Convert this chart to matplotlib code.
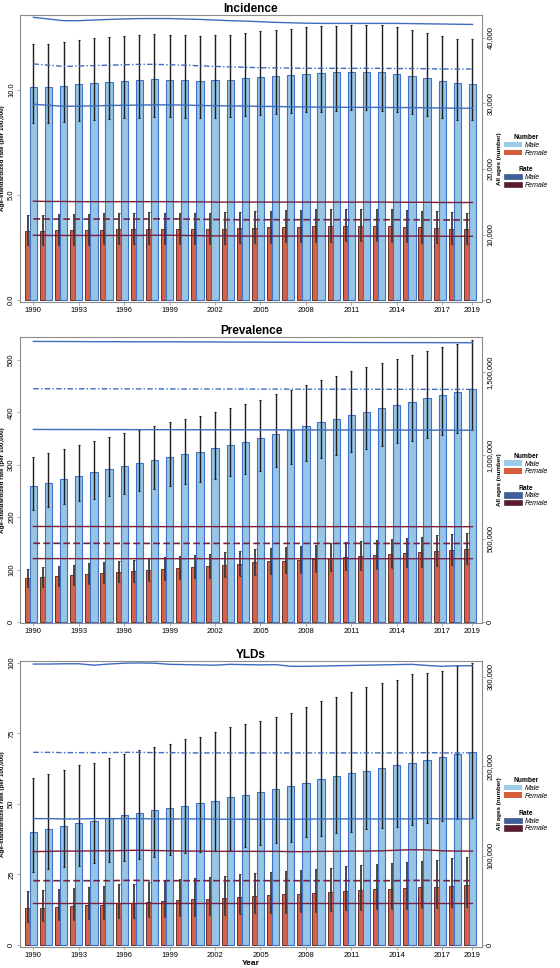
import matplotlib.pyplot as plt
from matplotlib.patches import Patch
from matplotlib.ticker import FuncFormatter

plt.rcParams['font.family'] = ['Liberation Sans', 'DejaVu Sans']

years = list(range(1990, 2020))
year_ticks = [1990, 1993, 1996, 1999, 2002, 2005, 2008, 2011, 2014, 2017, 2019]

# ---------------- Incidence ----------------
inc_m = [32470, 32470, 32720, 32980, 33130, 33280, 33440, 33540, 33690, 33590,
         33540, 33440, 33540, 33630, 33850, 34050, 34200, 34350, 34550, 34660,
         34760, 34850, 34850, 34810, 34550, 34200, 33850, 33440, 33080, 33020]
inc_m_hi = [39130, 39130, 39430, 39740, 39920, 40100, 40300, 40420, 40600, 40480,
            40420, 40300, 40420, 40520, 40790, 41030, 41210, 41390, 41630, 41770,
            41890, 41990, 41990, 41950, 41630, 41210, 40790, 40300, 39860, 39790]
inc_m_lo = [26950, 26950, 27160, 27370, 27500, 27620, 27760, 27840, 27960, 27880,
            27840, 27760, 27840, 27910, 28100, 28260, 28390, 28510, 28680, 28770,
            28850, 28930, 28930, 28890, 28680, 28390, 28100, 27760, 27460, 27410]
inc_f = [10600, 10600, 10650, 10700, 10700, 10750, 10800, 10850, 10900, 10850,
         10850, 10800, 10850, 10900, 10950, 11000, 11100, 11150, 11200, 11250,
         11300, 11350, 11350, 11350, 11300, 11200, 11100, 11000, 10900, 10850]
inc_f_hi = [13040, 13040, 13100, 13160, 13160, 13220, 13280, 13350, 13410, 13350,
            13350, 13280, 13350, 13410, 13470, 13530, 13650, 13710, 13780, 13840,
            13900, 13960, 13960, 13960, 13900, 13780, 13650, 13530, 13410, 13350]
inc_f_lo = [8370, 8370, 8410, 8450, 8450, 8490, 8530, 8570, 8610, 8570,
            8570, 8530, 8570, 8610, 8650, 8690, 8770, 8810, 8850, 8890,
            8930, 8970, 8970, 8970, 8930, 8850, 8770, 8690, 8610, 8570]
inc_mr = [11.24, 11.18, 11.12, 11.14, 11.16, 11.18, 11.20, 11.22, 11.22, 11.20,
          11.18, 11.15, 11.12, 11.10, 11.08, 11.06, 11.05, 11.04, 11.03, 11.03,
          11.03, 11.03, 11.03, 11.03, 11.02, 11.02, 11.01, 11.00, 11.00, 11.00]
inc_mr_hi = [13.46, 13.38, 13.30, 13.30, 13.33, 13.36, 13.38, 13.40, 13.40, 13.40,
             13.38, 13.36, 13.33, 13.30, 13.28, 13.25, 13.22, 13.20, 13.18, 13.17,
             13.17, 13.17, 13.17, 13.17, 13.17, 13.16, 13.15, 13.14, 13.13, 13.12]
inc_mr_lo = [9.32, 9.27, 9.22, 9.23, 9.24, 9.26, 9.27, 9.28, 9.29, 9.29,
             9.28, 9.26, 9.25, 9.24, 9.23, 9.22, 9.21, 9.20, 9.19, 9.18,
             9.18, 9.17, 9.17, 9.17, 9.16, 9.16, 9.15, 9.14, 9.13, 9.13]
inc_fr = [3.86, 3.85, 3.85, 3.85, 3.85, 3.85, 3.85, 3.85, 3.86, 3.86,
          3.85, 3.84, 3.83, 3.82, 3.82, 3.82, 3.82, 3.82, 3.82, 3.82,
          3.82, 3.82, 3.82, 3.82, 3.82, 3.82, 3.81, 3.81, 3.81, 3.81]
inc_fr_hi = [4.70, 4.69, 4.69, 4.68, 4.68, 4.68, 4.68, 4.68, 4.68, 4.68,
             4.67, 4.67, 4.66, 4.66, 4.66, 4.66, 4.66, 4.66, 4.66, 4.66,
             4.66, 4.66, 4.66, 4.66, 4.65, 4.65, 4.65, 4.64, 4.64, 4.64]
inc_fr_lo = [3.08, 3.07, 3.07, 3.07, 3.07, 3.07, 3.07, 3.07, 3.08, 3.08,
             3.07, 3.06, 3.05, 3.05, 3.04, 3.04, 3.04, 3.04, 3.04, 3.04,
             3.04, 3.04, 3.04, 3.04, 3.04, 3.04, 3.04, 3.03, 3.03, 3.03]

# ---------------- Prevalence ----------------
prev_m = [816000, 836000, 858000, 878000, 898000, 916000, 936000, 954000, 972000, 990000,
          1006000, 1022000, 1042000, 1062000, 1082000, 1102000, 1130000, 1152000, 1176000, 1198000,
          1220000, 1242000, 1262000, 1282000, 1302000, 1322000, 1342000, 1362000, 1380000, 1398000]
prev_m_hi = [987000, 1012000, 1038000, 1062000, 1087000, 1108000, 1133000, 1154000, 1176000, 1198000,
             1217000, 1237000, 1261000, 1285000, 1309000, 1333000, 1367000, 1394000, 1423000, 1450000,
             1476000, 1503000, 1527000, 1551000, 1575000, 1600000, 1624000, 1648000, 1670000, 1692000]
prev_m_lo = [672000, 688000, 706000, 723000, 739000, 754000, 770000, 785000, 800000, 815000,
             828000, 841000, 858000, 874000, 890000, 907000, 930000, 948000, 968000, 986000,
             1004000, 1022000, 1039000, 1055000, 1072000, 1088000, 1104000, 1121000, 1136000, 1151000]
prev_f = [262000, 268000, 274000, 282000, 288000, 294000, 300000, 306000, 312000, 318000,
          324000, 330000, 336000, 342000, 348000, 358000, 364000, 368000, 372000, 378000,
          386000, 392000, 396000, 402000, 408000, 414000, 420000, 426000, 432000, 438000]
prev_f_hi = [320000, 327000, 334000, 344000, 351000, 359000, 366000, 373000, 381000, 388000,
             395000, 403000, 410000, 417000, 425000, 437000, 444000, 449000, 454000, 461000,
             471000, 478000, 483000, 490000, 498000, 505000, 512000, 520000, 527000, 534000]
prev_f_lo = [207000, 212000, 216000, 223000, 228000, 232000, 237000, 242000, 246000, 251000,
             256000, 261000, 265000, 270000, 275000, 283000, 288000, 291000, 294000, 299000,
             305000, 310000, 313000, 318000, 322000, 327000, 332000, 337000, 341000, 346000]
prev_mr = [445.2, 445.1, 445.1, 445.0, 445.0, 445.0, 444.9, 444.9, 444.9, 444.8,
           444.8, 444.7, 444.7, 444.6, 444.6, 444.5, 444.5, 444.4, 444.4, 444.3,
           444.3, 444.2, 444.2, 444.2, 444.1, 444.1, 444.0, 444.0, 444.0, 444.0]
prev_mr_hi = [535.5, 535.4, 535.3, 535.2, 535.0, 535.0, 534.9, 534.8, 534.8, 534.7,
              534.6, 534.5, 534.4, 534.3, 534.2, 534.1, 534.0, 533.9, 533.8, 533.7,
              533.6, 533.5, 533.4, 533.3, 533.3, 533.2, 533.2, 533.1, 533.1, 533.0]
prev_mr_lo = [367.5, 367.4, 367.4, 367.3, 367.3, 367.2, 367.2, 367.1, 367.1, 367.0,
              367.0, 366.9, 366.9, 366.8, 366.8, 366.7, 366.7, 366.6, 366.6, 366.5,
              366.5, 366.4, 366.4, 366.3, 366.3, 366.2, 366.2, 366.1, 366.1, 366.0]
prev_fr = [150.2, 150.2, 150.1, 150.1, 150.1, 150.0, 150.0, 150.0, 150.0, 150.0,
           150.0, 150.0, 150.0, 150.0, 150.0, 150.0, 150.0, 150.0, 150.0, 150.0,
           150.0, 150.0, 150.0, 149.9, 149.9, 149.9, 149.9, 149.9, 149.9, 149.9]
prev_fr_hi = [182.3, 182.3, 182.2, 182.2, 182.2, 182.1, 182.1, 182.1, 182.0, 182.0,
              182.0, 182.0, 182.0, 182.0, 182.0, 182.0, 182.0, 182.0, 182.0, 182.0,
              182.0, 182.0, 181.9, 181.9, 181.9, 181.9, 181.9, 181.9, 181.9, 181.9]
prev_fr_lo = [121.0, 121.0, 121.0, 120.9, 120.9, 120.9, 120.9, 120.9, 120.9, 120.9,
              120.8, 120.8, 120.8, 120.8, 120.8, 120.8, 120.8, 120.8, 120.8, 120.8,
              120.8, 120.8, 120.8, 120.8, 120.8, 120.8, 120.8, 120.8, 120.8, 120.8]

# ---------------- YLDs ----------------
yld_m = [126700, 129400, 133100, 136100, 138700, 142100, 145100, 148000, 150700, 153200,
         155800, 158500, 161600, 165200, 167800, 170800, 174200, 177900, 181500, 185300,
         188700, 192100, 195000, 198300, 201000, 203900, 206900, 210300, 213300, 215500]
yld_m_hi = [187200, 191300, 195700, 201300, 203200, 208800, 213600, 218100, 221800, 224500,
            230400, 233000, 237900, 243500, 247200, 250900, 255400, 259800, 265900, 272900,
            277100, 283300, 288300, 292700, 296400, 302800, 304600, 306500, 312100, 315800]
yld_m_lo = [82000, 84700, 86900, 88700, 91400, 92500, 94000, 95900, 98100, 100700,
            102600, 103700, 105100, 106300, 109300, 111900, 113800, 115600, 121100, 122300,
            125600, 126700, 129400, 130500, 132300, 134200, 136100, 138700, 140600, 141700]
yld_f = [41000, 41800, 42900, 43600, 44700, 45100, 46600, 47000, 48100, 49200,
         50300, 51100, 51800, 52900, 54100, 55200, 55900, 56700, 57400, 58500,
         59300, 60400, 61200, 62300, 63000, 63800, 64500, 65200, 66400, 67100]
yld_f_hi = [59900, 61000, 62600, 63700, 65300, 65800, 68000, 68600, 70200, 71800,
            73400, 74600, 75600, 77200, 79000, 80600, 81600, 82800, 83800, 85400,
            86600, 88200, 89400, 91000, 92000, 93100, 94200, 95200, 96900, 98000]
yld_f_lo = [26200, 26800, 27500, 27900, 28600, 28900, 29800, 30100, 30800, 31500,
            32200, 32700, 33200, 33900, 34600, 35300, 35800, 36300, 36700, 37400,
            38000, 38700, 39200, 39900, 40300, 40800, 41300, 41700, 42500, 42900]
yld_mr = [68.3, 68.3, 68.2, 68.2, 68.2, 68.2, 68.3, 68.3, 68.2, 68.2,
          68.1, 68.1, 68.1, 68.1, 68.1, 68.1, 68.1, 68.1, 68.1, 68.1,
          68.1, 68.1, 68.1, 68.1, 68.1, 68.1, 68.2, 68.1, 68.1, 68.1]
yld_mr_hi = [99.6, 99.6, 99.7, 99.7, 99.2, 99.6, 99.9, 100.0, 99.9, 99.5,
             99.4, 99.3, 99.2, 99.5, 99.4, 99.3, 99.4, 98.8, 98.8, 98.9,
             99.0, 99.1, 99.2, 99.3, 99.4, 99.5, 99.1, 98.8, 99.0, 99.0]
yld_mr_lo = [44.8, 44.8, 44.7, 44.7, 44.8, 44.8, 44.8, 44.8, 44.7, 44.7,
             44.7, 44.7, 44.6, 44.6, 44.6, 44.6, 44.6, 44.6, 44.6, 44.7,
             44.7, 44.7, 44.7, 44.7, 44.7, 44.7, 44.8, 44.7, 44.7, 44.7]
yld_fr = [22.8, 22.8, 22.8, 22.8, 22.8, 22.8, 22.9, 22.9, 22.8, 22.8,
          22.8, 22.8, 22.8, 22.8, 22.8, 22.8, 22.8, 22.8, 22.8, 22.8,
          22.8, 22.8, 22.8, 22.8, 22.8, 22.9, 22.9, 22.8, 22.8, 22.8]
yld_fr_hi = [33.1, 33.2, 33.3, 33.3, 33.4, 33.4, 33.5, 33.6, 33.5, 33.4,
             33.3, 33.3, 33.2, 33.2, 33.2, 33.2, 33.2, 33.1, 33.1, 33.2,
             33.2, 33.3, 33.3, 33.4, 33.6, 33.8, 33.7, 33.4, 33.3, 33.3]
yld_fr_lo = [15.0, 15.0, 15.0, 15.0, 15.0, 15.0, 15.0, 15.0, 15.0, 15.0,
             15.0, 15.0, 15.0, 15.0, 15.0, 15.0, 15.0, 15.0, 15.0, 15.0,
             15.0, 15.0, 15.0, 15.0, 15.0, 15.0, 15.0, 15.0, 15.0, 15.0]

# colours
male_fill, male_edge = '#96C5E5', '#3F72C6'
fem_fill, fem_edge = '#D6624A', '#4E1C1A'
male_line, fem_line = '#3D6CC0', '#7A1E3E'
frame_col = '#8C8C8C'

fig = plt.figure(figsize=(5.6, 9.68), dpi=100)


def draw_panel(rect, title, num, rate, rate_lim, rate_ticks, rate_fmt,
               num_lim, num_ticks, leg_y, small_year=None, xlabel=False):
    m, m_lo, m_hi, f, f_lo, f_hi = num
    mr, mr_lo, mr_hi, fr, fr_lo, fr_hi = rate

    ax = fig.add_axes(rect)
    ax2 = ax.twinx()
    # numbers on the right axis, rates on the left one
    ax.yaxis.tick_right()
    ax.yaxis.set_label_position('right')
    ax2.yaxis.tick_left()
    ax2.yaxis.set_label_position('left')

    xf = [y - 0.33 for y in years]
    ax.bar(xf, f, width=0.48, color=fem_fill, edgecolor=fem_edge,
           linewidth=0.6, zorder=1)
    ax.errorbar(xf, f, yerr=[[a - b for a, b in zip(f, f_lo)],
                             [b - a for a, b in zip(f, f_hi)]],
                fmt='none', ecolor='#3A3A3A', elinewidth=1.3, capsize=0.8,
                capthick=0.8, zorder=2)
    ax.bar(years, m, width=0.48, color=male_fill, edgecolor=male_edge,
           linewidth=0.8, zorder=3)
    ax.errorbar(years, m, yerr=[[a - b for a, b in zip(m, m_lo)],
                                [b - a for a, b in zip(m, m_hi)]],
                fmt='none', ecolor='#1E1E1E', elinewidth=1.0, capsize=0.8,
                capthick=0.8, zorder=4)
    ax.set_ylim(*num_lim)
    ax.set_xlim(1989.12, 2019.63)
    ax.set_yticks(num_ticks)
    ax.yaxis.set_major_formatter(FuncFormatter(lambda v, p: f'{int(v):,}'))
    ax.set_ylabel('All ages (number)', fontsize=4.5, fontweight='bold',
                  labelpad=2)
    ax.set_xticks(year_ticks)
    ax.set_xticklabels([str(y) for y in year_ticks])
    if small_year is not None:
        for lab in ax.get_xticklabels():
            if lab.get_text() == str(small_year):
                lab.set_fontsize(3.6)
    ax.tick_params(axis='x', labelsize=5.5, length=2, width=0.5,
                   color=frame_col, pad=1.5)
    ax.tick_params(axis='y', labelsize=5.5, length=2, width=0.5,
                   color=frame_col, pad=1.5, labelrotation=90)
    for lab in ax.get_yticklabels():
        lab.set_va('center')
    for s in ax.spines.values():
        s.set_color(frame_col)
        s.set_linewidth(0.8)

    ax2.plot(years, mr_hi, color=male_line, lw=1.0)
    ax2.plot(years, mr, color=male_line, lw=1.0, dashes=(4, 1.6, 1, 1.6))
    ax2.plot(years, mr_lo, color=male_line, lw=1.0)
    ax2.plot(years, fr_hi, color=fem_line, lw=1.0)
    ax2.plot(years, fr, color=fem_line, lw=1.2, dashes=(4, 2))
    ax2.plot(years, fr_lo, color=fem_line, lw=1.0)
    ax2.set_ylim(*rate_lim)
    ax2.set_yticks(rate_ticks)
    ax2.yaxis.set_major_formatter(FuncFormatter(lambda v, p: rate_fmt % v))
    ax2.tick_params(axis='y', labelsize=5.5, length=2, width=0.5,
                    color=frame_col, pad=1.5, labelrotation=90)
    for lab in ax2.get_yticklabels():
        lab.set_va('center')
    ax2.set_ylabel('Age-standardized rate (per 100,000)', fontsize=4.5,
                   fontweight='bold', labelpad=2)
    for s in ax2.spines.values():
        s.set_visible(False)

    ax.set_title(title, fontsize=8.5, fontweight='bold', pad=2)
    if xlabel:
        ax.set_xlabel('Year', fontsize=6, fontweight='bold', labelpad=1)

    h_num = [Patch(facecolor='#9CCBE8', edgecolor='none', label='Male'),
             Patch(facecolor='#D55E3C', edgecolor='none', label='Female')]
    h_rate = [Patch(facecolor='#3E5E9E', edgecolor='#2B3F6E', lw=0.4, label='Male'),
              Patch(facecolor='#5E1A34', edgecolor='#3A0E1E', lw=0.4, label='Female')]
    for handles, ttl, yy in [(h_num, 'Number', leg_y[0]), (h_rate, 'Rate', leg_y[1])]:
        lg = fig.legend(handles=handles, title=ttl, loc='upper left',
                        bbox_to_anchor=(0.898, yy), frameon=False,
                        prop={'size': 5, 'style': 'italic'},
                        handlelength=2.6, handleheight=0.8, labelspacing=0.1,
                        handletextpad=0.5, borderpad=0.1, borderaxespad=0)
        lg.get_title().set_fontsize(4.8)
        lg.get_title().set_fontweight('bold')
    return ax


draw_panel([0.0357, 0.688, 0.825, 0.2965], 'Incidence',
           (inc_m, inc_m_lo, inc_m_hi, inc_f, inc_f_lo, inc_f_hi),
           (inc_mr, inc_mr_lo, inc_mr_hi, inc_fr, inc_fr_lo, inc_fr_hi),
           (-0.1, 13.57), [0, 5, 10], '%.1f',
           (-300, 43500), [0, 10000, 20000, 30000, 40000],
           (0.862, 0.829))

draw_panel([0.0357, 0.3564, 0.825, 0.2955], 'Prevalence',
           (prev_m, prev_m_lo, prev_m_hi, prev_f, prev_f_lo, prev_f_hi),
           (prev_mr, prev_mr_lo, prev_mr_hi, prev_fr, prev_fr_lo, prev_fr_hi),
           (-1.9, 544), [0, 100, 200, 300, 400, 500], '%d',
           (-6000, 1709700), [0, 500000, 1000000, 1500000],
           (0.533, 0.500), small_year=1999)

draw_panel([0.0357, 0.0217, 0.825, 0.2955], 'YLDs',
           (yld_m, yld_m_lo, yld_m_hi, yld_f, yld_f_lo, yld_f_hi),
           (yld_mr, yld_mr_lo, yld_mr_hi, yld_fr, yld_fr_lo, yld_fr_hi),
           (-0.7, 100.7), [0, 25, 50, 75, 100], '%d',
           (-2240, 317700), [0, 100000, 200000, 300000],
           (0.198, 0.164), xlabel=True)

fig.savefig('out.png', dpi=100)
